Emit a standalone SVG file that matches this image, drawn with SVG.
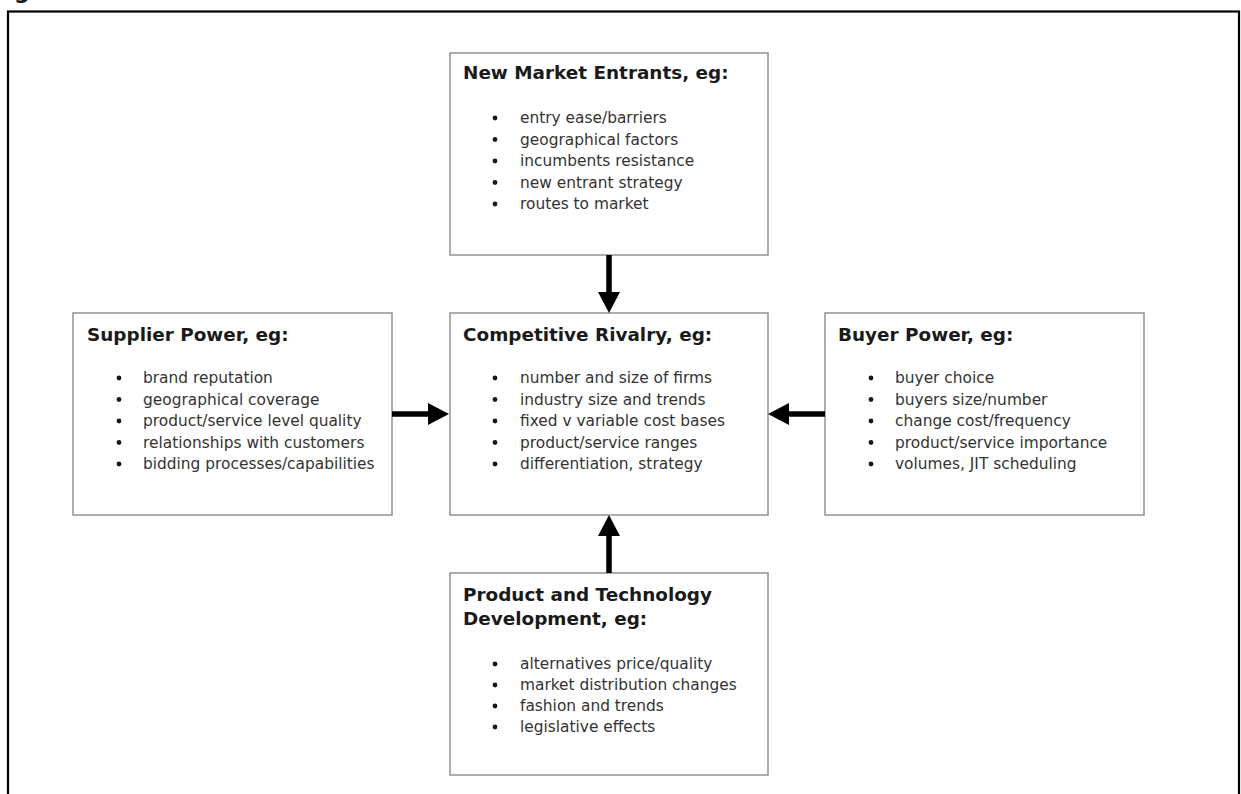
<svg xmlns="http://www.w3.org/2000/svg" width="1241" height="794" viewBox="0 0 1241 794">
<style>
.frame{fill:none;stroke:#000;stroke-width:2.2}
.box{fill:#fff;stroke:#8a8a8a;stroke-width:1.4}
.title{font-family:"DejaVu Sans",Verdana,sans-serif;font-weight:bold;font-size:18.4px;fill:#1a1a1a}
.item{font-family:"DejaVu Sans",Verdana,sans-serif;font-size:15.4px;fill:#333}
.dot{fill:#1a1a1a}
.conn{stroke:#000;stroke-width:5.5;fill:none}
.head{fill:#000}
</style>
<rect width="1241" height="794" fill="#fff"/>
<text x="14" y="-1" class="title" style="font-size:22px">g</text>
<rect class="frame" x="8" y="11.5" width="1231" height="800"/>

<g id="new-market-entrants">
<rect class="box" x="450" y="53" width="318" height="202"/>
<text class="title" x="463" y="79">New Market Entrants, eg:</text>
<g class="dot"><circle cx="495" cy="118" r="2.4"/><circle cx="495" cy="139.5" r="2.4"/><circle cx="495" cy="161" r="2.4"/><circle cx="495" cy="182.5" r="2.4"/><circle cx="495" cy="204" r="2.4"/></g>
<text class="item" x="520" y="123">entry ease/barriers</text>
<text class="item" x="520" y="144.5">geographical factors</text>
<text class="item" x="520" y="166">incumbents resistance</text>
<text class="item" x="520" y="187.5">new entrant strategy</text>
<text class="item" x="520" y="209">routes to market</text>
</g>

<g id="supplier-power">
<rect class="box" x="73" y="313" width="319" height="202"/>
<text class="title" x="87" y="341">Supplier Power, eg:</text>
<g class="dot"><circle cx="119" cy="378" r="2.4"/><circle cx="119" cy="399.5" r="2.4"/><circle cx="119" cy="421" r="2.4"/><circle cx="119" cy="442.5" r="2.4"/><circle cx="119" cy="464" r="2.4"/></g>
<text class="item" x="143" y="383">brand reputation</text>
<text class="item" x="143" y="404.5">geographical coverage</text>
<text class="item" x="143" y="426">product/service level quality</text>
<text class="item" x="143" y="447.5">relationships with customers</text>
<text class="item" x="143" y="469">bidding processes/capabilities</text>
</g>

<g id="competitive-rivalry">
<rect class="box" x="450" y="313" width="318" height="202"/>
<text class="title" x="463" y="341">Competitive Rivalry, eg:</text>
<g class="dot"><circle cx="495" cy="378" r="2.4"/><circle cx="495" cy="399.5" r="2.4"/><circle cx="495" cy="421" r="2.4"/><circle cx="495" cy="442.5" r="2.4"/><circle cx="495" cy="464" r="2.4"/></g>
<text class="item" x="520" y="383">number and size of firms</text>
<text class="item" x="520" y="404.5">industry size and trends</text>
<text class="item" x="520" y="426">fixed v variable cost bases</text>
<text class="item" x="520" y="447.5">product/service ranges</text>
<text class="item" x="520" y="469">differentiation, strategy</text>
</g>

<g id="buyer-power">
<rect class="box" x="825" y="313" width="319" height="202"/>
<text class="title" x="838" y="341">Buyer Power, eg:</text>
<g class="dot"><circle cx="871" cy="378" r="2.4"/><circle cx="871" cy="399.5" r="2.4"/><circle cx="871" cy="421" r="2.4"/><circle cx="871" cy="442.5" r="2.4"/><circle cx="871" cy="464" r="2.4"/></g>
<text class="item" x="895" y="383">buyer choice</text>
<text class="item" x="895" y="404.5">buyers size/number</text>
<text class="item" x="895" y="426">change cost/frequency</text>
<text class="item" x="895" y="447.5">product/service importance</text>
<text class="item" x="895" y="469">volumes, JIT scheduling</text>
</g>

<g id="product-technology-development">
<rect class="box" x="450" y="573" width="318" height="202"/>
<text class="title" x="463" y="601">Product and Technology</text>
<text class="title" x="463" y="625">Development, eg:</text>
<g class="dot"><circle cx="495" cy="664" r="2.4"/><circle cx="495" cy="685" r="2.4"/><circle cx="495" cy="706" r="2.4"/><circle cx="495" cy="727" r="2.4"/></g>
<text class="item" x="520" y="669">alternatives price/quality</text>
<text class="item" x="520" y="690">market distribution changes</text>
<text class="item" x="520" y="711">fashion and trends</text>
<text class="item" x="520" y="732">legislative effects</text>
</g>

<g id="connectors">
<line class="conn" x1="609" y1="255" x2="609" y2="294"/>
<polygon class="head" points="598,292 620,292 609,313"/>
<line class="conn" x1="392" y1="414" x2="430" y2="414"/>
<polygon class="head" points="428,403 428,425 449,414"/>
<line class="conn" x1="825" y1="414" x2="787" y2="414"/>
<polygon class="head" points="789,403 789,425 768,414"/>
<line class="conn" x1="609" y1="573" x2="609" y2="534"/>
<polygon class="head" points="598,536 620,536 609,515"/>
</g>
</svg>
